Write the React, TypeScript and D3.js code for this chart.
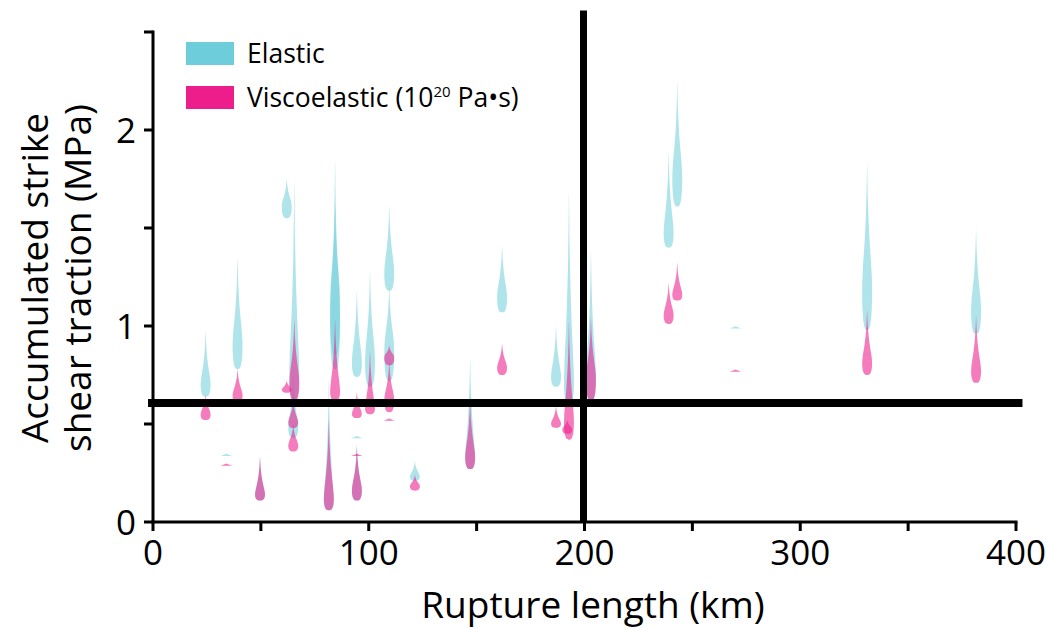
import React from "react";
import * as d3 from "d3";

const W = 1046;
const H = 629;

// axis ticks
const xTicks = [0, 50, 100, 150, 200, 250, 300, 350, 400];
const xTickLabels = [0, 100, 200, 300, 400];
const yTicks = [0, 0.5, 1, 1.5, 2, 2.5];
const yTickLabels = [0, 1, 2];

// reference lines
const refTraction = 0.607; // MPa
const refLength = 200; // km

// violins: [rupture length (km), min, mode (widest), max] in MPa
const elastic: [number, number, number, number][] = [
  [24.4, 0.64, 0.72, 0.97],
  [39.2, 0.78, 0.94, 1.35],
  [62, 1.55, 1.63, 1.75],
  [65.5, 0.62, 0.8, 1.74],
  [65, 0.43, 0.5, 0.75],
  [34, 0.34, 0.34, 0.34],
  [49.6, 0.11, 0.15, 0.33],
  [84.4, 0.78, 1.1, 1.84],
  [84.4, 0.85, 1.2, 1.62],
  [81.5, 0.06, 0.12, 0.72],
  [94.5, 0.74, 0.84, 1.18],
  [94.5, 0.43, 0.43, 0.43],
  [94.5, 0.11, 0.17, 0.4],
  [100.6, 0.69, 0.86, 1.28],
  [109.5, 1.18, 1.3, 1.61],
  [109.5, 0.72, 0.92, 1.2],
  [121.4, 0.21, 0.24, 0.31],
  [147, 0.27, 0.35, 0.83],
  [161.8, 1.07, 1.17, 1.41],
  [186.8, 0.69, 0.76, 1.0],
  [192.8, 0.6, 0.75, 1.68],
  [203, 0.62, 0.78, 1.38],
  [239, 1.4, 1.5, 1.88],
  [243, 1.61, 1.8, 2.24],
  [270, 0.99, 0.99, 0.99],
  [331, 0.98, 1.25, 1.83],
  [381.5, 0.96, 1.12, 1.49],
];

const viscoelastic: [number, number, number, number][] = [
  [24.4, 0.52, 0.56, 0.65],
  [39.2, 0.6, 0.66, 0.78],
  [62, 0.66, 0.68, 0.72],
  [65.5, 0.62, 0.74, 1.03],
  [65, 0.48, 0.52, 0.62],
  [65, 0.36, 0.4, 0.5],
  [34, 0.29, 0.29, 0.29],
  [49.6, 0.11, 0.15, 0.33],
  [84.4, 0.62, 0.68, 1.03],
  [81.5, 0.06, 0.14, 0.52],
  [94.5, 0.53, 0.56, 0.66],
  [94.5, 0.11, 0.18, 0.38],
  [94.5, 0.34, 0.34, 0.34],
  [100.6, 0.55, 0.59, 0.87],
  [109.5, 0.8, 0.85, 0.9],
  [109.5, 0.56, 0.64, 0.82],
  [109.5, 0.52, 0.52, 0.52],
  [121.4, 0.16, 0.19, 0.24],
  [147, 0.27, 0.35, 0.62],
  [161.8, 0.75, 0.8, 0.91],
  [186.8, 0.48, 0.51, 0.59],
  [192.8, 0.42, 0.54, 1.02],
  [192, 0.45, 0.48, 0.52],
  [203, 0.62, 0.76, 1.04],
  [239, 1.01, 1.07, 1.22],
  [243, 1.13, 1.17, 1.32],
  [270, 0.77, 0.77, 0.77],
  [331, 0.75, 0.83, 1.08],
  [381.5, 0.71, 0.79, 1.05],
];

const CYAN = "#6DCDDB";
const PINK = "#EE1D8C";
const FONT = "'Open Sans', sans-serif";

const x = d3.scaleLinear().domain([0, 400]).range([153, 1016]);
const y = d3.scaleLinear().domain([0, 2.5]).range([522, 32]);

const HW = 5.2;

function violinPath(v: [number, number, number, number]): string {
  const [km, lo, mode, hi] = v;
  const cx = x(km);
  if (hi - lo < 0.005) {
    const cy = y(mode);
    return `M${cx - HW * 1.1},${cy + 0.6} L${cx},${cy - 1.6} L${cx + HW * 1.1},${cy + 0.6} Z`;
  }
  const prof: [number, number][] = [
    [lo, 0],
    [lo, 0.55],
    [lo + 0.35 * (mode - lo), 0.95],
    [mode, 1],
    [mode + 0.3 * (hi - mode), 0.45],
    [mode + 0.65 * (hi - mode), 0.12],
    [hi, 0.02],
    [hi, 0],
  ];
  const area = d3
    .area<[number, number]>()
    .y((d) => y(d[0]))
    .x0((d) => cx - d[1] * HW)
    .x1((d) => cx + d[1] * HW)
    .curve(d3.curveBasis);
  return area(prof) || "";
}

export default function App() {
  return (
    <svg width={W} height={H} style={{ position: "absolute", left: 0, top: 0, background: "#fff" }}>
      {/* violins */}
      <g>
        {elastic.map((v, i) => (
          <path key={"e" + i} d={violinPath(v)} fill={CYAN} fillOpacity={0.55} />
        ))}
        {viscoelastic.map((v, i) => (
          <path key={"v" + i} d={violinPath(v)} fill={PINK} fillOpacity={0.58} />
        ))}
      </g>

      {/* axes */}
      <g stroke="#000" strokeWidth={3} fill="none">
        <line x1={x(0)} x2={x(0)} y1={y(2.5) - 1.5} y2={y(0) + 1.5} />
        <line x1={x(0) - 1.5} x2={x(400) + 1.5} y1={y(0)} y2={y(0)} />
        {yTicks.map((t) => (
          <line key={"yt" + t} x1={x(0) - 9} x2={x(0)} y1={y(t)} y2={y(t)} />
        ))}
        {xTicks.map((t) => (
          <line key={"xt" + t} x1={x(t)} x2={x(t)} y1={y(0)} y2={y(0) + 9} />
        ))}
      </g>
      <g fontFamily={FONT} fontSize={35} fill="#000">
        {yTickLabels.map((t) => (
          <text key={"yl" + t} x={x(0) - 17} y={y(t)} dy="0.36em" textAnchor="end">
            {t}
          </text>
        ))}
        {xTickLabels.map((t) => (
          <text key={"xl" + t} x={x(t)} y={y(0) + 43} textAnchor="middle">
            {t}
          </text>
        ))}
        <text x={593} y={618} textAnchor="middle" fontSize={37}>
          Rupture length (km)
        </text>
        <g transform={`translate(0, 278) rotate(-90)`}>
          <text x={0} y={48} textAnchor="middle" fontSize={37}>
            Accumulated strike
          </text>
          <text x={0} y={91} textAnchor="middle" fontSize={37}>
            shear traction (MPa)
          </text>
        </g>
      </g>

      {/* reference lines */}
      <g stroke="#000">
        <line x1={x(-2.3)} x2={x(403)} y1={y(refTraction)} y2={y(refTraction)} strokeWidth={8} />
        <line x1={x(refLength) - 1} x2={x(refLength) - 1} y1={y(2.61)} y2={y(0)} strokeWidth={7} />
      </g>

      {/* legend */}
      <g fontFamily={FONT} fontSize={26.5}>
        <rect x={186} y={42} width={48} height={23} fill={CYAN} />
        <text x={247} y={63}>Elastic</text>
        <rect x={186} y={86} width={48} height={23} fill={PINK} />
        <text x={247} y={107}>
          Viscoelastic (10
          <tspan fontSize={15} dy={-10}>20</tspan>
          <tspan dy={10}> Pa•s)</tspan>
        </text>
      </g>
    </svg>
  );
}
